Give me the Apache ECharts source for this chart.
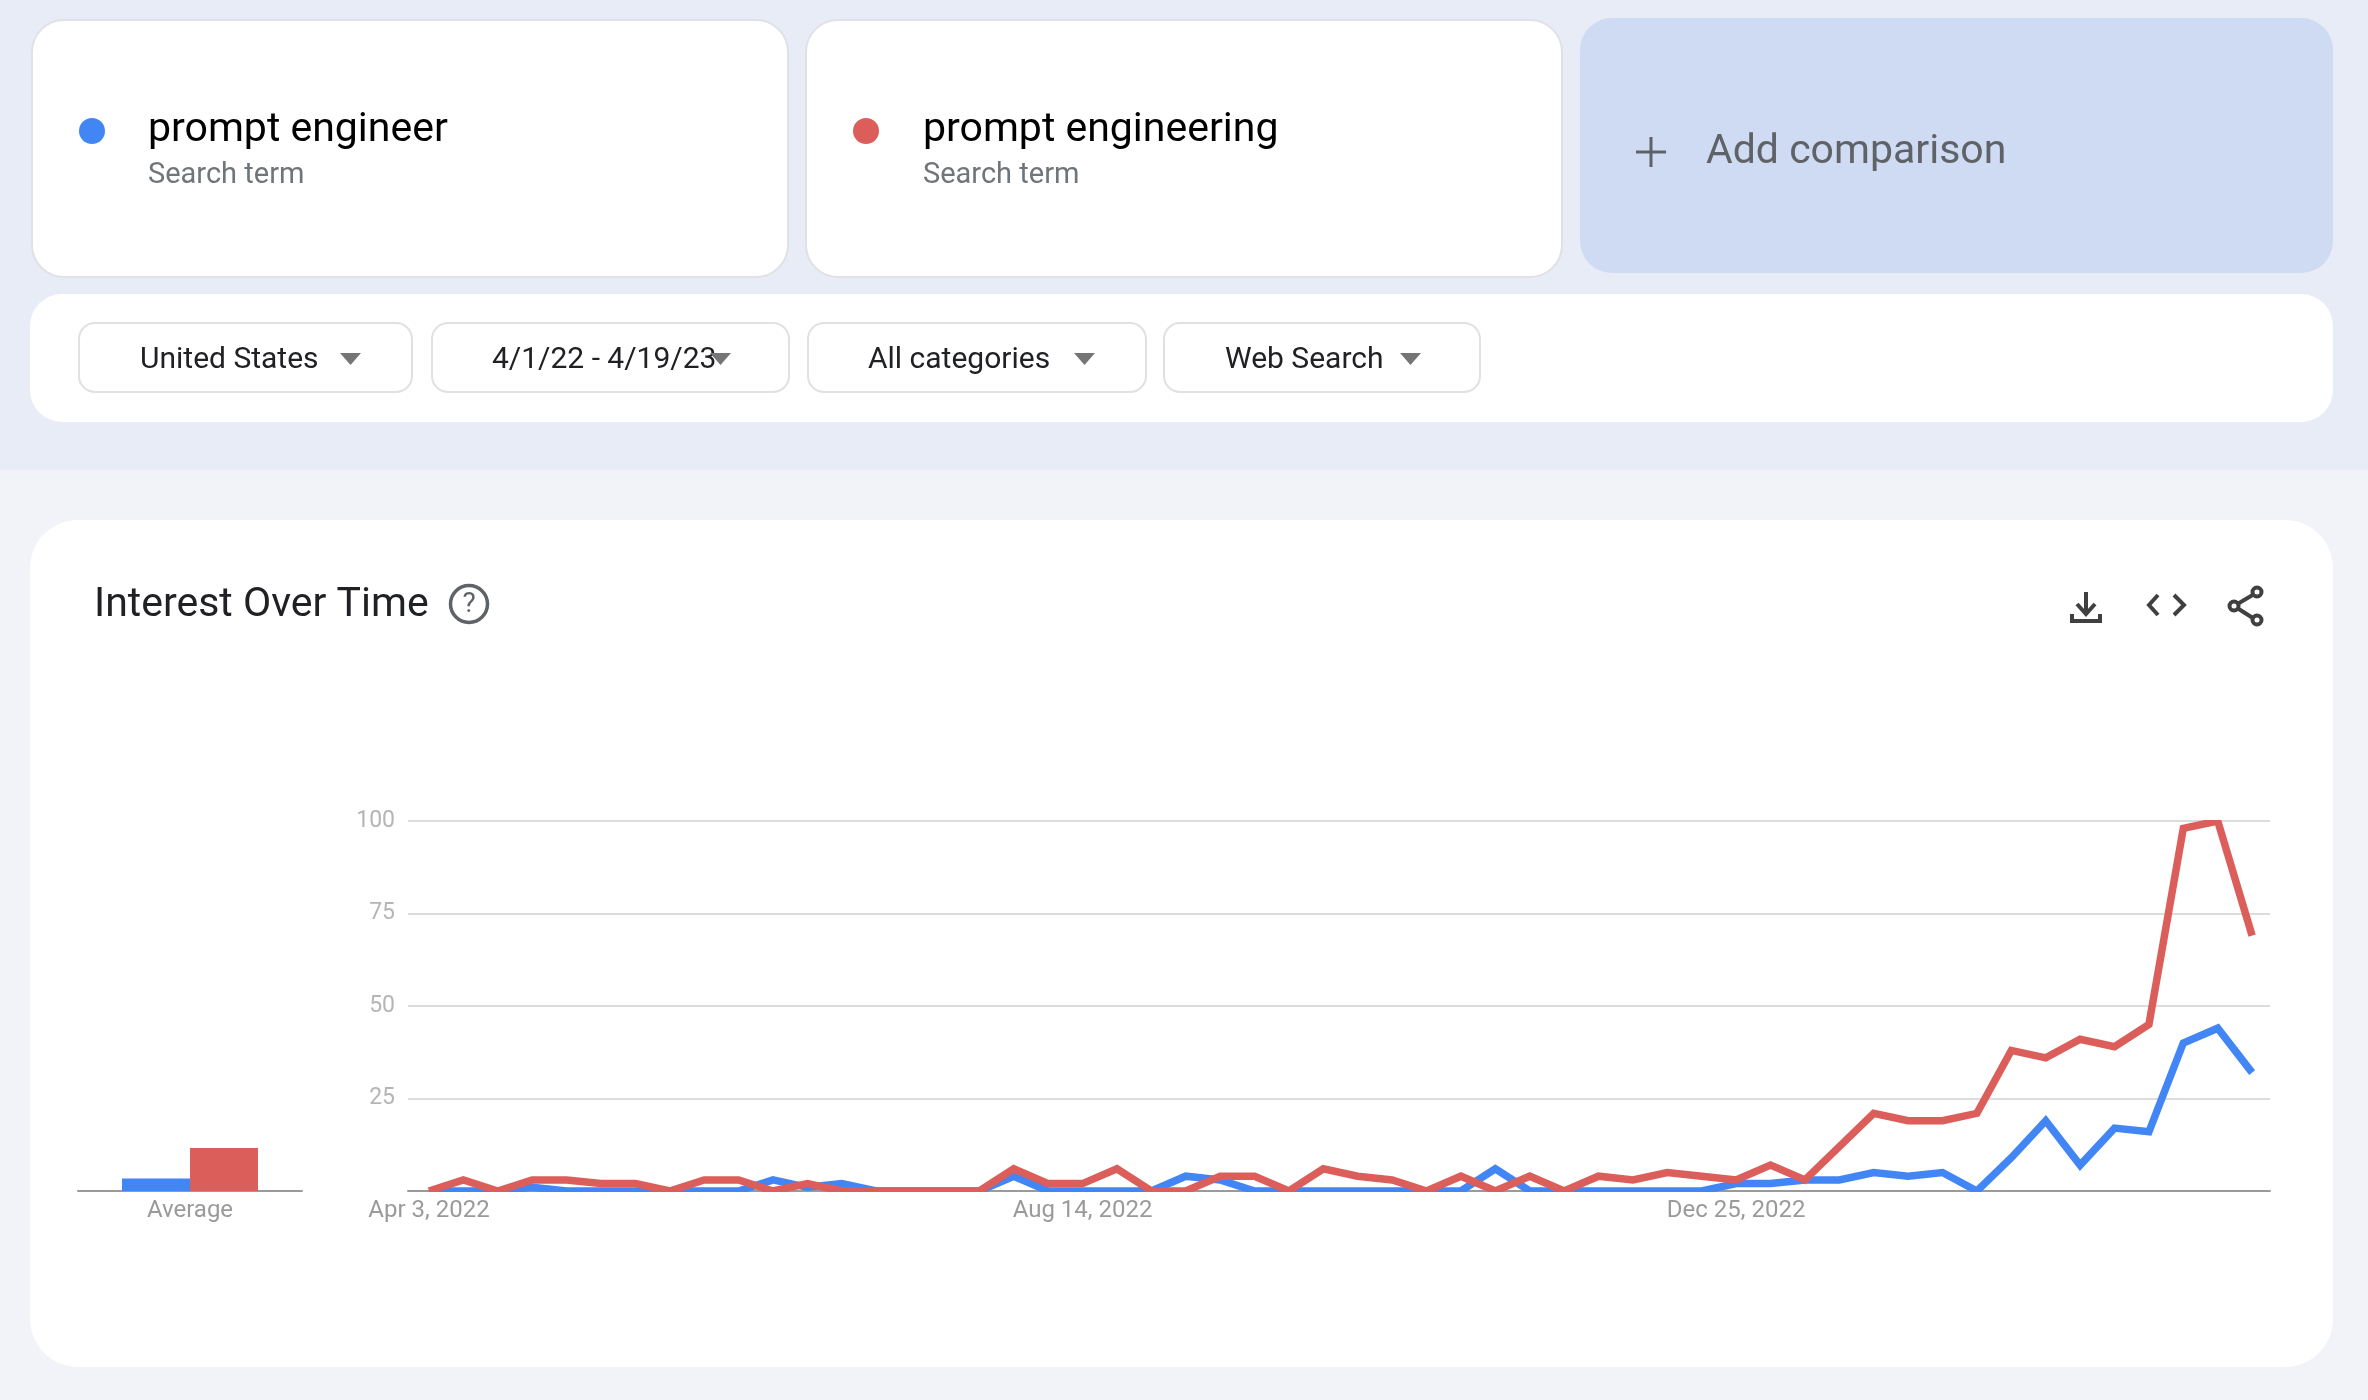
<!DOCTYPE html>
<html>
<head>
<meta charset="utf-8">
<script src="https://cdn.jsdelivr.net/npm/echarts@6/dist/echarts.min.js"></script>
<style>html,body{margin:0;padding:0;background:#f1f3f9}#chart{width:2368px;height:1400px}</style>
</head>
<body>
<div id="chart"></div>
<script>
const promptEngineer = [0,0,0,1,0,0,0,0,0,0,3,1,2,0,0,0,0,4,0,0,0,0,4,3,0,0,0,0,0,0,0,6,0,0,0,0,0,0,2,2,3,3,5,4,5,0,9,19,7,17,16,40,44,32];
const promptEngineering = [0,3,0,3,3,2,2,0,3,3,0,2,0,0,0,0,0,6,2,2,6,0,0,4,4,0,6,4,3,0,4,0,4,0,4,3,5,4,3,7,3,12,21,19,19,21,38,36,41,39,45,98,100,69];
const averageEngineer = [3.4];
const averageEngineering = [11.6];
const averageCategory = ['Average'];
const xTickWeeks = [0,19,38];
const xTickLabels = ['Apr 3, 2022','Aug 14, 2022','Dec 25, 2022'];
const yTicks = [0,25,50,75,100];
const termNames = ['prompt engineer','prompt engineering'];
const filterNames = ['United States','4/1/22 - 4/19/23','All categories','Web Search'];

const BLUE = '#4285f4', RED = '#db5e5b';
const UI = 'Roboto, sans-serif';
const rect = (x,y,w,h,r,fill,stroke) => ({type:'rect',z:-5,shape:{x,y,width:w,height:h,r},style:{fill,stroke:stroke||null,lineWidth:stroke?2:0}});
const text = (x,y,t,size,fill,extra) => ({type:'text',z:10,style:Object.assign({x,y,text:t,font:size+'px '+UI,fill,verticalAlign:'middle',align:'left'},extra||{})});
const circle = (cx,cy,r,fill) => ({type:'circle',z:10,shape:{cx,cy,r},style:{fill}});
const caret = (x1,x2,y1,y2) => ({type:'polygon',z:10,shape:{points:[[x1,y1],[x2,y1],[(x1+x2)/2,y2]]},style:{fill:'#757575'}});
const ink = '#404040';
const stroke = pts => ({type:'polyline',z:10,shape:{points:pts},style:{stroke:ink,lineWidth:4,fill:null,lineJoin:'miter'}});
const ring = (cx,cy,r) => ({type:'circle',z:10,shape:{cx,cy,r},style:{stroke:ink,lineWidth:4,fill:'#fff'}});

const filterBoxes = [[79,412,140,340],[432,789,492,710],[808,1146,868,1074],[1164,1480,1225,1400]];

const elements = [
  {type:'rect',z:-10,shape:{x:0,y:0,width:2368,height:470},style:{fill:'#e8ecf7'}},
  {type:'rect',z:-10,shape:{x:0,y:470,width:2368,height:930},style:{fill:'#f1f3f9'}},
  rect(32,20,756,257,32,'#ffffff','#dfe1e5'),
  rect(806,20,756,257,32,'#ffffff','#dfe1e5'),
  rect(1580,18,753,255,32,'#cfdbf2'),
  rect(30,294,2303,128,32,'#ffffff'),
  rect(30,520,2303,847,48,'#ffffff'),
  circle(92,131,13,BLUE), circle(866,131,13,RED),
  text(148,131,termNames[0],41,'#000000'),
  text(148,176,'Search term',29,'#70757a'),
  text(923,131,termNames[1],41,'#000000'),
  text(923,176,'Search term',29,'#70757a'),
  {type:'polyline',z:10,shape:{points:[[1636,152],[1666,152]]},style:{stroke:'#5f6368',lineWidth:3,fill:null}},
  {type:'polyline',z:10,shape:{points:[[1651,137],[1651,167]]},style:{stroke:'#5f6368',lineWidth:3,fill:null}},
  text(1706,153,'Add comparison',41,'#5f6368'),
  text(94,606,'Interest Over Time',41,'#202124'),
  {type:'circle',z:10,shape:{cx:469,cy:604,r:18.5},style:{stroke:'#5f6368',lineWidth:3.5,fill:null}},
  text(469,605,'?',28,'#5f6368',{align:'center'}),
  stroke([[2086,592],[2086,614]]), stroke([[2077,604],[2086,614],[2095,604]]),
  stroke([[2072,614],[2072,621],[2100,621],[2100,614]]),
  stroke([[2158,595],[2149,605],[2158,615]]), stroke([[2174,595],[2184,605],[2174,615]]),
  stroke([[2256,593],[2234,606],[2256,620]]),
  ring(2257,592,4.5), ring(2234,606,4.5), ring(2257,620,4.5),
  {type:'rect',z:50,shape:{x:408,y:808,width:1862,height:12},style:{fill:'#ffffff'}},
  {type:'rect',z:50,shape:{x:408,y:1192,width:1862,height:5},style:{fill:'#ffffff'}}
];
filterBoxes.forEach((b,i) => {
  elements.push(rect(b[0],323,b[1]-b[0],69,16,'#ffffff','#dfe1e5'));
  elements.push(text(b[2],360,filterNames[i],30,'#202124'));
  elements.push(caret(b[3],b[3]+21,353,365));
});

const labelFont = 'Roboto';
const chart = echarts.init(document.getElementById('chart'));
chart.setOption({
  animation:false,
  backgroundColor:'#f1f3f9',
  graphic:{elements},
  grid:[
    {left:78,top:821,width:224,height:370},
    {left:408,top:821,width:1862,height:370}
  ],
  xAxis:[
    {gridIndex:0,type:'category',data:averageCategory,
     axisLine:{lineStyle:{color:'#9a9a9a',width:2}},axisTick:{show:false},
     axisLabel:{color:'#9a9a9a',fontFamily:labelFont,fontSize:24,margin:8}},
    {gridIndex:1,type:'value',min:-0.61,max:53.52,
     axisLine:{onZero:false,lineStyle:{color:'#9a9a9a',width:2}},axisTick:{show:false},splitLine:{show:false},
     axisLabel:{customValues:xTickWeeks,color:'#9a9a9a',fontFamily:labelFont,fontSize:24,margin:8,
       formatter:v => xTickLabels[xTickWeeks.indexOf(v)] || ''}}
  ],
  yAxis:[
    {gridIndex:0,type:'value',min:0,max:100,interval:25,show:false},
    {gridIndex:1,type:'value',min:0,max:100,interval:25,
     axisLine:{show:false},axisTick:{show:false},
     splitLine:{lineStyle:{color:'#dcdcdc',width:2}},
     axisLabel:{color:'#b5b5b5',fontFamily:labelFont,fontSize:23,margin:13,
       formatter:v => (v===yTicks[0] ? '' : String(v))}}
  ],
  series:[
    {type:'bar',xAxisIndex:0,yAxisIndex:0,name:termNames[0],data:averageEngineer,barWidth:68,barGap:'0%',itemStyle:{color:BLUE}},
    {type:'bar',xAxisIndex:0,yAxisIndex:0,name:termNames[1],data:averageEngineering,barWidth:68,barGap:'0%',itemStyle:{color:RED}},
    {type:'line',xAxisIndex:1,yAxisIndex:1,name:termNames[0],data:promptEngineer.map((v,i)=>[i,v]),showSymbol:false,
     lineStyle:{color:BLUE,width:7.5,join:'miter',cap:'butt'},z:3},
    {type:'line',xAxisIndex:1,yAxisIndex:1,name:termNames[1],data:promptEngineering.map((v,i)=>[i,v]),showSymbol:false,
     lineStyle:{color:RED,width:7.5,join:'miter',cap:'butt'},z:4}
  ]
});
</script>
</body>
</html>
